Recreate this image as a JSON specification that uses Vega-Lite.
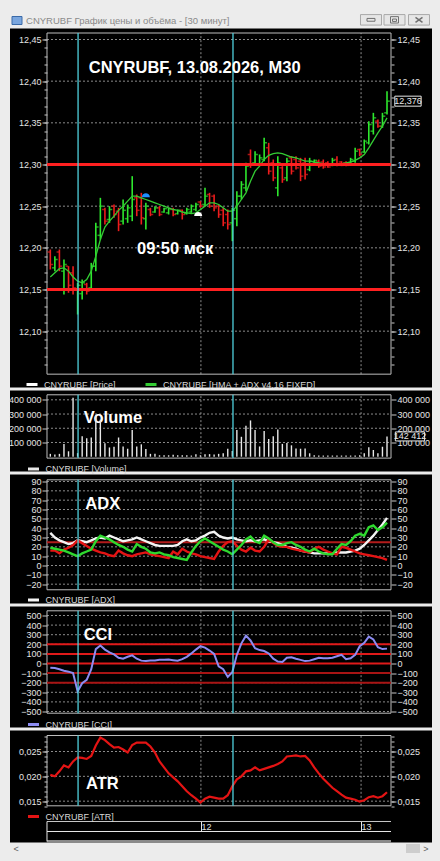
{
"$schema": "https://vega.github.io/schema/vega-lite/v6.json",
"background": "#ececec",
"padding": {"left": 8, "right": 10, "top": 12.5, "bottom": 9},
"bounds": "flush",
"spacing": 3,
"resolve": {"scale": {"x": "independent", "y": "independent", "color": "independent"}, "legend": {"color": "independent"}},
"config": {
 "view": {"fill": "#000000", "stroke": null},
 "axis": {"domain": false, "grid": false, "tickColor": "#c8c8c8", "tickWidth": 1, "labelColor": "#e4e4e4", "labelFont": "Liberation Sans Narrow, Liberation Sans", "labelFontSize": 9, "labelPadding": 1, "labelOverlap": false, "labelBound": false, "labelFlush": false, "zindex": 0},
 "legend": {"orient": "none", "direction": "horizontal", "symbolType": "stroke", "symbolStrokeWidth": 3, "symbolSize": 121, "labelColor": "#d8d8d8", "labelFont": "Liberation Sans Narrow, Liberation Sans", "labelFontSize": 9, "padding": 0, "labelOffset": 5, "columnPadding": 23},
 "text": {"font": "Liberation Sans", "fontWeight": "bold", "fontSize": 16.5, "color": "#ffffff", "align": "left", "baseline": "alphabetic"}
},
"datasets": {"d": [
{"i":0,"o":12.195,"h":12.198,"l":12.174,"c":12.18,"m":12.165,"v":20000,"a":35,"p":19,"n":16,"k":-45,"r":0.0203},
{"i":1,"o":12.176,"h":12.19,"l":12.172,"c":12.186,"m":12.17,"v":15000,"a":30,"p":18,"n":16,"k":-48,"r":0.02},
{"i":2,"o":12.195,"h":12.198,"l":12.172,"c":12.178,"m":12.175,"v":20000,"a":27,"p":17,"n":13,"k":-60,"r":0.021},
{"i":3,"o":12.172,"h":12.186,"l":12.144,"c":12.18,"m":12.176,"v":90000,"a":25,"p":16,"n":17,"k":-75,"r":0.0222},
{"i":4,"o":12.178,"h":12.178,"l":12.146,"c":12.155,"m":12.172,"v":38000,"a":23,"p":14,"n":19,"k":-85,"r":0.0218},
{"i":5,"o":12.17,"h":12.178,"l":12.144,"c":12.152,"m":12.165,"v":415000,"a":24,"p":12,"n":22,"k":-100,"r":0.023},
{"i":6,"o":12.15,"h":12.158,"l":12.12,"c":12.155,"m":12.16,"v":25000,"a":27,"p":10,"n":27,"k":-290,"r":0.0238},
{"i":7,"o":12.145,"h":12.162,"l":12.138,"c":12.158,"m":12.158,"v":143000,"a":26,"p":13,"n":24,"k":-205,"r":0.0237},
{"i":8,"o":12.156,"h":12.158,"l":12.144,"c":12.148,"m":12.162,"v":130000,"a":25,"p":15,"n":21,"k":-170,"r":0.0235},
{"i":9,"o":12.152,"h":12.182,"l":12.15,"c":12.178,"m":12.172,"v":135000,"a":27,"p":17,"n":18,"k":-60,"r":0.0241},
{"i":10,"o":12.178,"h":12.23,"l":12.172,"c":12.225,"m":12.19,"v":290000,"a":29,"p":26,"n":16,"k":150,"r":0.0262},
{"i":11,"o":12.215,"h":12.26,"l":12.21,"c":12.25,"m":12.21,"v":260000,"a":30,"p":32,"n":14,"k":187,"r":0.0278},
{"i":12,"o":12.246,"h":12.248,"l":12.228,"c":12.232,"m":12.225,"v":95000,"a":29,"p":30,"n":13,"k":145,"r":0.0273},
{"i":13,"o":12.234,"h":12.25,"l":12.23,"c":12.246,"m":12.232,"v":65000,"a":32,"p":28,"n":11,"k":115,"r":0.0265},
{"i":14,"o":12.25,"h":12.252,"l":12.236,"c":12.24,"m":12.238,"v":70000,"a":30,"p":25,"n":10,"k":95,"r":0.0258},
{"i":15,"o":12.244,"h":12.248,"l":12.22,"c":12.228,"m":12.245,"v":135000,"a":28,"p":22,"n":16,"k":60,"r":0.0259},
{"i":16,"o":12.232,"h":12.258,"l":12.228,"c":12.245,"m":12.25,"v":72000,"a":26,"p":20,"n":13,"k":50,"r":0.0254},
{"i":17,"o":12.235,"h":12.252,"l":12.23,"c":12.248,"m":12.256,"v":56000,"a":27,"p":17,"n":11,"k":70,"r":0.0248},
{"i":18,"o":12.238,"h":12.286,"l":12.232,"c":12.258,"m":12.262,"v":187000,"a":28,"p":15,"n":10,"k":85,"r":0.0263},
{"i":19,"o":12.26,"h":12.264,"l":12.238,"c":12.245,"m":12.262,"v":72000,"a":30,"p":23,"n":12,"k":50,"r":0.0268},
{"i":20,"o":12.26,"h":12.266,"l":12.228,"c":12.236,"m":12.26,"v":87000,"a":28,"p":20,"n":13,"k":30,"r":0.0268},
{"i":21,"o":12.235,"h":12.254,"l":12.222,"c":12.25,"m":12.258,"v":54000,"a":26,"p":18,"n":14,"k":25,"r":0.0268},
{"i":22,"o":12.246,"h":12.248,"l":12.238,"c":12.24,"m":12.256,"v":20000,"a":24,"p":14,"n":12,"k":30,"r":0.026},
{"i":23,"o":12.243,"h":12.25,"l":12.242,"c":12.248,"m":12.254,"v":20000,"a":22,"p":13,"n":11,"k":32,"r":0.0248},
{"i":24,"o":12.248,"h":12.25,"l":12.238,"c":12.24,"m":12.252,"v":10000,"a":21,"p":14,"n":10,"k":38,"r":0.023},
{"i":25,"o":12.243,"h":12.248,"l":12.242,"c":12.247,"m":12.25,"v":10000,"a":21,"p":12,"n":9,"k":40,"r":0.0218},
{"i":26,"o":12.242,"h":12.248,"l":12.24,"c":12.247,"m":12.248,"v":10000,"a":21,"p":11,"n":8,"k":42,"r":0.0206},
{"i":27,"o":12.246,"h":12.248,"l":12.238,"c":12.24,"m":12.246,"v":14000,"a":21,"p":9,"n":15,"k":35,"r":0.0198},
{"i":28,"o":12.241,"h":12.246,"l":12.24,"c":12.245,"m":12.245,"v":10000,"a":22,"p":8,"n":12,"k":28,"r":0.019},
{"i":29,"o":12.245,"h":12.246,"l":12.234,"c":12.24,"m":12.243,"v":10000,"a":26,"p":7,"n":18,"k":45,"r":0.018},
{"i":30,"o":12.241,"h":12.248,"l":12.24,"c":12.246,"m":12.242,"v":10000,"a":28,"p":6,"n":15,"k":70,"r":0.017},
{"i":31,"o":12.243,"h":12.252,"l":12.242,"c":12.25,"m":12.241,"v":8000,"a":26,"p":14,"n":13,"k":105,"r":0.0162},
{"i":32,"o":12.246,"h":12.254,"l":12.244,"c":12.252,"m":12.242,"v":18000,"a":27,"p":21,"n":12,"k":145,"r":0.0155},
{"i":33,"o":12.255,"h":12.256,"l":12.248,"c":12.25,"m":12.246,"v":10000,"a":30,"p":26,"n":10,"k":180,"r":0.0147},
{"i":34,"o":12.252,"h":12.272,"l":12.25,"c":12.262,"m":12.25,"v":18000,"a":32,"p":29,"n":9,"k":165,"r":0.0155},
{"i":35,"o":12.264,"h":12.266,"l":12.248,"c":12.25,"m":12.254,"v":18000,"a":35,"p":26,"n":8,"k":135,"r":0.0159},
{"i":36,"o":12.262,"h":12.264,"l":12.244,"c":12.248,"m":12.254,"v":15000,"a":36,"p":23,"n":7,"k":100,"r":0.0157},
{"i":37,"o":12.25,"h":12.252,"l":12.236,"c":12.24,"m":12.252,"v":20000,"a":32,"p":20,"n":15,"k":-30,"r":0.0155},
{"i":38,"o":12.245,"h":12.248,"l":12.226,"c":12.23,"m":12.248,"v":25000,"a":30,"p":17,"n":21,"k":-60,"r":0.0155},
{"i":39,"o":12.24,"h":12.246,"l":12.222,"c":12.228,"m":12.244,"v":56000,"a":29,"p":15,"n":25,"k":-140,"r":0.0162},
{"i":40,"o":12.23,"h":12.248,"l":12.208,"c":12.245,"m":12.244,"v":40000,"a":30,"p":12,"n":26,"k":-90,"r":0.018},
{"i":41,"o":12.235,"h":12.268,"l":12.226,"c":12.262,"m":12.25,"v":187000,"a":28,"p":17,"n":21,"k":90,"r":0.0194},
{"i":42,"o":12.262,"h":12.28,"l":12.258,"c":12.276,"m":12.258,"v":140000,"a":27,"p":22,"n":17,"k":210,"r":0.02},
{"i":43,"o":12.272,"h":12.302,"l":12.268,"c":12.298,"m":12.266,"v":218000,"a":26,"p":28,"n":15,"k":290,"r":0.021},
{"i":44,"o":12.312,"h":12.318,"l":12.296,"c":12.3,"m":12.28,"v":255000,"a":27,"p":31,"n":19,"k":240,"r":0.0212},
{"i":45,"o":12.302,"h":12.316,"l":12.3,"c":12.312,"m":12.292,"v":187000,"a":26,"p":26,"n":16,"k":160,"r":0.0218},
{"i":46,"o":12.3,"h":12.312,"l":12.298,"c":12.308,"m":12.298,"v":72000,"a":27,"p":24,"n":15,"k":140,"r":0.0212},
{"i":47,"o":12.306,"h":12.332,"l":12.304,"c":12.326,"m":12.306,"v":180000,"a":28,"p":32,"n":20,"k":130,"r":0.0215},
{"i":48,"o":12.32,"h":12.326,"l":12.288,"c":12.292,"m":12.311,"v":124000,"a":26,"p":29,"n":28,"k":105,"r":0.0218},
{"i":49,"o":12.302,"h":12.306,"l":12.28,"c":12.284,"m":12.313,"v":143000,"a":25,"p":25,"n":24,"k":50,"r":0.0221},
{"i":50,"o":12.272,"h":12.31,"l":12.262,"c":12.302,"m":12.314,"v":192000,"a":24,"p":22,"n":21,"k":20,"r":0.0225},
{"i":51,"o":12.296,"h":12.298,"l":12.278,"c":12.282,"m":12.313,"v":90000,"a":22,"p":22,"n":20,"k":15,"r":0.023},
{"i":52,"o":12.284,"h":12.308,"l":12.28,"c":12.304,"m":12.311,"v":96000,"a":20,"p":24,"n":20,"k":60,"r":0.024},
{"i":53,"o":12.308,"h":12.31,"l":12.288,"c":12.292,"m":12.309,"v":80000,"a":19,"p":25,"n":18,"k":65,"r":0.0241},
{"i":54,"o":12.306,"h":12.31,"l":12.294,"c":12.296,"m":12.308,"v":58000,"a":18,"p":22,"n":17,"k":50,"r":0.0242},
{"i":55,"o":12.304,"h":12.308,"l":12.28,"c":12.286,"m":12.306,"v":56000,"a":16,"p":20,"n":16,"k":38,"r":0.024},
{"i":56,"o":12.302,"h":12.308,"l":12.282,"c":12.288,"m":12.304,"v":58000,"a":15,"p":17,"n":15,"k":25,"r":0.0241},
{"i":57,"o":12.294,"h":12.308,"l":12.292,"c":12.304,"m":12.304,"v":24000,"a":14,"p":15,"n":14,"k":30,"r":0.0232},
{"i":58,"o":12.301,"h":12.306,"l":12.3,"c":12.305,"m":12.303,"v":10000,"a":13,"p":18,"n":18,"k":45,"r":0.0218},
{"i":59,"o":12.304,"h":12.306,"l":12.296,"c":12.298,"m":12.302,"v":8000,"a":13,"p":15,"n":20,"k":60,"r":0.0206},
{"i":60,"o":12.303,"h":12.306,"l":12.295,"c":12.297,"m":12.301,"v":8000,"a":13,"p":13,"n":17,"k":55,"r":0.0195},
{"i":61,"o":12.302,"h":12.304,"l":12.296,"c":12.297,"m":12.3,"v":8000,"a":13,"p":12,"n":15,"k":55,"r":0.0186},
{"i":62,"o":12.299,"h":12.308,"l":12.298,"c":12.305,"m":12.3,"v":8000,"a":13,"p":12,"n":13,"k":60,"r":0.0177},
{"i":63,"o":12.306,"h":12.31,"l":12.298,"c":12.3,"m":12.3,"v":8000,"a":14,"p":18,"n":12,"k":75,"r":0.017},
{"i":64,"o":12.303,"h":12.304,"l":12.298,"c":12.299,"m":12.301,"v":8000,"a":14,"p":23,"n":20,"k":90,"r":0.0163},
{"i":65,"o":12.302,"h":12.304,"l":12.298,"c":12.299,"m":12.302,"v":8000,"a":14,"p":22,"n":19,"k":45,"r":0.0157},
{"i":66,"o":12.301,"h":12.308,"l":12.3,"c":12.306,"m":12.303,"v":8000,"a":15,"p":26,"n":17,"k":55,"r":0.0155},
{"i":67,"o":12.304,"h":12.32,"l":12.302,"c":12.316,"m":12.305,"v":8000,"a":16,"p":32,"n":15,"k":90,"r":0.0153},
{"i":68,"o":12.318,"h":12.319,"l":12.31,"c":12.312,"m":12.308,"v":10000,"a":18,"p":34,"n":13,"k":180,"r":0.0149},
{"i":69,"o":12.315,"h":12.33,"l":12.314,"c":12.328,"m":12.312,"v":24000,"a":22,"p":32,"n":12,"k":215,"r":0.0152},
{"i":70,"o":12.326,"h":12.352,"l":12.324,"c":12.348,"m":12.32,"v":66000,"a":27,"p":41,"n":11,"k":280,"r":0.0158},
{"i":71,"o":12.34,"h":12.362,"l":12.336,"c":12.356,"m":12.329,"v":47000,"a":32,"p":43,"n":10,"k":250,"r":0.016},
{"i":72,"o":12.352,"h":12.354,"l":12.344,"c":12.346,"m":12.338,"v":24000,"a":38,"p":38,"n":9,"k":170,"r":0.0157},
{"i":73,"o":12.346,"h":12.362,"l":12.344,"c":12.358,"m":12.346,"v":70000,"a":44,"p":41,"n":8,"k":150,"r":0.016},
{"i":74,"o":12.362,"h":12.388,"l":12.36,"c":12.376,"m":12.356,"v":142412,"a":51,"p":46,"n":6,"k":155,"r":0.0168}
]},
"vconcat": [
{
 "width": 422, "height": 359,
 "resolve": {"axis": {"x": "independent", "y": "independent"}},
 "layer": [
  {"data": {"values": [{"g":12.1},{"g":12.15},{"g":12.2},{"g":12.25},{"g":12.3},{"g":12.35},{"g":12.4},{"g":12.45}]},
   "mark": {"type": "rule", "color": "#8c8c8c", "strokeDash": [2, 2], "strokeWidth": 1},
   "encoding": {
    "x": {"datum": -0.73, "type": "quantitative", "scale": {"domain": [-8.86, 83.89], "nice": false, "zero": false}, "axis": null},
    "x2": {"datum": 74.88},
    "y": {"field": "g", "type": "quantitative", "scale": {"domain": [12.0324, 12.4632], "nice": false, "zero": false},
          "axis": {"orient": "left", "offset": -37, "values": [12.1,12.15,12.2,12.25,12.3,12.35,12.4,12.45], "labelExpr": "replace(format(datum.value, '.2f'), '.', ',')", "tickSize": 5, "title": null}}}},
  {"data": {"values": [{"g":12.1},{"g":12.45}]},
   "mark": {"type": "rule", "opacity": 0},
   "encoding": {
    "x": {"datum": -0.73, "type": "quantitative", "axis": null}, "x2": {"datum": 74.88},
    "y": {"field": "g", "type": "quantitative", "axis": {"orient": "right", "offset": -41, "values": [12.1,12.15,12.2,12.25,12.3,12.35,12.4,12.45], "labelExpr": "replace(format(datum.value, '.2f'), '.', ',')", "tickSize": 5, "title": null}}}},
  {"data": {"values": [{"g":12.1},{"g":12.45}]},
   "mark": {"type": "rule", "opacity": 0},
   "encoding": {
    "x": {"datum": -0.73, "type": "quantitative", "axis": null}, "x2": {"datum": 74.88},
    "y": {"field": "g", "type": "quantitative", "axis": {"orient": "left", "offset": -37, "values": [12.06,12.07,12.08,12.09,12.1,12.11,12.12,12.13,12.14,12.15,12.16,12.17,12.18,12.19,12.2,12.21,12.22,12.23,12.24,12.25,12.26,12.27,12.28,12.29,12.3,12.31,12.32,12.33,12.34,12.35,12.36,12.37,12.38,12.39,12.4,12.41,12.42,12.43,12.44,12.45], "labels": false, "tickSize": 3, "title": null}}}},
  {"data": {"values": [{"g":12.1},{"g":12.45}]},
   "mark": {"type": "rule", "opacity": 0},
   "encoding": {
    "x": {"datum": -0.73, "type": "quantitative", "axis": null}, "x2": {"datum": 74.88},
    "y": {"field": "g", "type": "quantitative", "axis": {"orient": "right", "offset": -41, "values": [12.06,12.07,12.08,12.09,12.1,12.11,12.12,12.13,12.14,12.15,12.16,12.17,12.18,12.19,12.2,12.21,12.22,12.23,12.24,12.25,12.26,12.27,12.28,12.29,12.3,12.31,12.32,12.33,12.34,12.35,12.36,12.37,12.38,12.39,12.4,12.41,12.42,12.43,12.44,12.45], "labels": false, "tickSize": 3, "title": null}}}},
  {"data": {"values": [{"d": 33.1}, {"d": 68.3}]},
   "mark": {"type": "rule", "color": "#8c8c8c", "strokeDash": [2, 2], "strokeWidth": 1},
   "encoding": {"x": {"field": "d", "type": "quantitative", "axis": null}, "y": {"datum": 12.0484, "type": "quantitative", "axis": null}, "y2": {"datum": 12.4578}}},
  {"data": {"values": [{}]},
   "mark": {"type": "rect", "fillOpacity": 0, "stroke": "#bdbdbd", "strokeWidth": 1},
   "encoding": {"x": {"datum": -0.73, "type": "quantitative", "axis": null}, "x2": {"datum": 74.88}, "y": {"datum": 12.0484, "type": "quantitative", "axis": null}, "y2": {"datum": 12.4578}}},
  {"data": {"name": "d"},
   "mark": {"type": "rule", "strokeWidth": 1.6},
   "encoding": {"x": {"field": "i", "type": "quantitative", "axis": null}, "y": {"field": "l", "type": "quantitative", "axis": null}, "y2": {"field": "h"},
    "color": {"condition": {"test": "datum.c >= datum.o", "value": "#2ee82e"}, "value": "#ee1c1c"}}},
  {"data": {"name": "d"},
   "mark": {"type": "tick", "orient": "horizontal", "size": 2.5, "thickness": 1.5, "xOffset": -1.6},
   "encoding": {"x": {"field": "i", "type": "quantitative", "axis": null}, "y": {"field": "o", "type": "quantitative", "axis": null},
    "color": {"condition": {"test": "datum.c >= datum.o", "value": "#2ee82e"}, "value": "#ee1c1c"}}},
  {"data": {"name": "d"},
   "mark": {"type": "tick", "orient": "horizontal", "size": 2.5, "thickness": 1.5, "xOffset": 1.6},
   "encoding": {"x": {"field": "i", "type": "quantitative", "axis": null}, "y": {"field": "c", "type": "quantitative", "axis": null},
    "color": {"condition": {"test": "datum.c >= datum.o", "value": "#2ee82e"}, "value": "#ee1c1c"}}},
  {"data": {"name": "d"},
   "mark": {"type": "line", "strokeWidth": 1.3},
   "encoding": {"x": {"field": "i", "type": "quantitative", "axis": null}, "y": {"field": "m", "type": "quantitative", "axis": null},
    "color": {"datum": "CNYRUBF [HMA + ADX v4.16 FIXED]", "type": "nominal", "scale": {"domain": ["CNYRUBF [Price]", "CNYRUBF [HMA + ADX v4.16 FIXED]"], "range": ["#ffffff", "#33cc33"]},
     "legend": {"title": null, "legendX": 15, "legendY": 349}}}},
  {"data": {"values": [{"lv": 12.3}, {"lv": 12.15}]},
   "mark": {"type": "rule", "color": "#ff2020", "strokeWidth": 3},
   "encoding": {"x": {"datum": -0.73, "type": "quantitative", "axis": null}, "x2": {"datum": 74.88}, "y": {"field": "lv", "type": "quantitative", "axis": null}}},
  {"data": {"values": [{"i": 21, "p": 12.263}]},
   "mark": {"type": "point", "shape": "M-1,0.5C-1,-0.9 1,-0.9 1,0.5Z", "size": 64, "filled": true, "color": "#1e90ff", "opacity": 1},
   "encoding": {"x": {"field": "i", "type": "quantitative", "axis": null}, "y": {"field": "p", "type": "quantitative", "axis": null}}},
  {"data": {"values": [{"i": 32.5, "p": 12.2405}]},
   "mark": {"type": "point", "shape": "M-1,0.5C-1,-0.9 1,-0.9 1,0.5Z", "size": 64, "filled": true, "color": "#ffffff", "opacity": 1},
   "encoding": {"x": {"field": "i", "type": "quantitative", "axis": null}, "y": {"field": "p", "type": "quantitative", "axis": null}}},
  {"data": {"values": [{"cy": 6.1}, {"cy": 40.15}]},
   "mark": {"type": "rule", "color": "#4fd0dc", "strokeWidth": 1.3},
   "encoding": {"x": {"field": "cy", "type": "quantitative", "axis": null}, "y": {"datum": 12.0484, "type": "quantitative", "axis": null}, "y2": {"datum": 12.4578}}},
  {"data": {"values": [{}]},
   "mark": {"type": "text", "text": "CNYRUBF, 13.08.2026, M30"},
   "encoding": {"x": {"datum": 8.44, "type": "quantitative", "axis": null}, "y": {"datum": 12.4104, "type": "quantitative", "axis": null}}},
  {"data": {"values": [{}]},
   "mark": {"type": "text", "text": "09:50 мск"},
   "encoding": {"x": {"datum": 19.05, "type": "quantitative", "axis": null}, "y": {"datum": 12.1926, "type": "quantitative", "axis": null}}},
  {"data": {"values": [{}]},
   "mark": {"type": "point", "shape": "M-1,-0.38H1V0.38H-1Z", "size": 692, "filled": true, "fill": "#000000", "stroke": "#e8e8e8", "strokeWidth": 1, "opacity": 1, "fillOpacity": 1, "strokeOpacity": 1},
   "encoding": {"x": {"datum": 78.61, "type": "quantitative", "axis": null}, "y": {"datum": 12.376, "type": "quantitative", "axis": null}}},
  {"data": {"values": [{}]},
   "mark": {"type": "text", "text": "12,376", "font": "Liberation Sans Narrow, Liberation Sans", "fontSize": 9, "fontWeight": "normal", "align": "center", "baseline": "middle", "color": "#e8e8e8"},
   "encoding": {"x": {"datum": 78.61, "type": "quantitative", "axis": null}, "y": {"datum": 12.376, "type": "quantitative", "axis": null}}},
  {"data": {"values": [{}]},
   "mark": {"type": "text", "text": "CNYRUBF График цены и объёма - [30 минут]", "font": "Liberation Sans", "fontSize": 9.5, "fontWeight": "normal", "align": "left", "baseline": "middle", "color": "#8a8a8a"},
   "encoding": {"x": {"datum": -5.34, "type": "quantitative", "axis": null}, "y": {"datum": 12.4728, "type": "quantitative", "axis": null}}},
  {"data": {"values": [{}]},
   "mark": {"type": "point", "shape": "M-1,-0.8H1V0.8H-1Z", "size": 100, "filled": true, "fill": "#7aa6de", "stroke": "#3a6aa8", "strokeWidth": 1, "opacity": 1, "fillOpacity": 1, "strokeOpacity": 1},
   "encoding": {"x": {"datum": -7.32, "type": "quantitative", "axis": null}, "y": {"datum": 12.4728, "type": "quantitative", "axis": null}}},
  {"data": {"values": [{"b": 70.48}, {"b": 75.65}, {"b": 81.03}]},
   "mark": {"type": "point", "shape": "M-1,-0.5H1V0.5H-1Z", "size": 441, "filled": true, "fill": "#e6e6e6", "stroke": "#a8a8a8", "strokeWidth": 1, "opacity": 1, "fillOpacity": 1, "strokeOpacity": 1},
   "encoding": {"x": {"field": "b", "type": "quantitative", "axis": null}, "y": {"datum": 12.4736, "type": "quantitative", "axis": null}}},
  {"data": {"values": [{"b": 70.48}]},
   "mark": {"type": "point", "shape": "M-1,-0.35H1V0.35H-1Z", "size": 64, "filled": false, "stroke": "#707070", "strokeWidth": 1, "opacity": 1},
   "encoding": {"x": {"field": "b", "type": "quantitative", "axis": null}, "y": {"datum": 12.4736, "type": "quantitative", "axis": null}}},
  {"data": {"values": [{"b": 75.65}]},
   "mark": {"type": "point", "shape": "M-1,-0.8H1V0.8H-1Z M-0.5,-0.2H0.5V0.4H-0.5Z", "size": 64, "filled": false, "stroke": "#707070", "strokeWidth": 1, "opacity": 1},
   "encoding": {"x": {"field": "b", "type": "quantitative", "axis": null}, "y": {"datum": 12.4736, "type": "quantitative", "axis": null}}},
  {"data": {"values": [{"b": 81.03}]},
   "mark": {"type": "point", "shape": "M-1,-0.7L1,0.7M-1,0.7L1,-0.7", "size": 49, "filled": false, "stroke": "#707070", "strokeWidth": 1.5, "opacity": 1},
   "encoding": {"x": {"field": "b", "type": "quantitative", "axis": null}, "y": {"datum": 12.4736, "type": "quantitative", "axis": null}}}
 ]
},
{
 "width": 422, "height": 81,
 "resolve": {"axis": {"x": "independent", "y": "independent"}},
 "layer": [
  {"data": {"values": [{"g":100000},{"g":200000},{"g":300000},{"g":400000}]},
   "mark": {"type": "rule", "color": "#8c8c8c", "strokeDash": [2, 2], "strokeWidth": 1},
   "encoding": {
    "x": {"datum": -0.73, "type": "quantitative", "scale": {"domain": [-8.86, 83.89], "nice": false, "zero": false}, "axis": null},
    "x2": {"datum": 74.88},
    "y": {"field": "g", "type": "quantitative", "scale": {"domain": [-104100, 465500], "nice": false, "zero": false},
          "axis": {"orient": "left", "offset": -37, "values": [100000,200000,300000,400000], "labelExpr": "replace(format(datum.value, ',d'), ',', ' ')", "tickSize": 5, "title": null}}}},
  {"data": {"values": [{"g":100000},{"g":400000}]},
   "mark": {"type": "rule", "opacity": 0},
   "encoding": {
    "x": {"datum": -0.73, "type": "quantitative", "axis": null}, "x2": {"datum": 74.88},
    "y": {"field": "g", "type": "quantitative", "axis": {"orient": "right", "offset": -41, "values": [100000,200000,300000,400000], "labelExpr": "replace(format(datum.value, ',d'), ',', ' ')", "tickSize": 5, "title": null}}}},
  {"data": {"values": [{"d": 33.1}, {"d": 68.3}]},
   "mark": {"type": "rule", "color": "#8c8c8c", "strokeDash": [2, 2], "strokeWidth": 1},
   "encoding": {"x": {"field": "d", "type": "quantitative", "axis": null}, "y": {"datum": -10000, "type": "quantitative", "axis": null}, "y2": {"datum": 435300}}},
  {"data": {"values": [{}]},
   "mark": {"type": "rect", "fillOpacity": 0, "stroke": "#bdbdbd", "strokeWidth": 1},
   "encoding": {"x": {"datum": -0.73, "type": "quantitative", "axis": null}, "x2": {"datum": 74.88}, "y": {"datum": -10000, "type": "quantitative", "axis": null}, "y2": {"datum": 435300}}},
  {"data": {"values": [{}]},
   "mark": {"type": "text", "text": "Volume"},
   "encoding": {"x": {"datum": 7.34, "type": "quantitative", "axis": null}, "y": {"datum": 235600, "type": "quantitative", "axis": null}}},
  {"data": {"name": "d"},
   "mark": {"type": "rule", "strokeWidth": 1.4},
   "encoding": {"x": {"field": "i", "type": "quantitative", "axis": null}, "y": {"field": "v", "type": "quantitative", "axis": null}, "y2": {"datum": 0},
    "color": {"datum": "CNYRUBF [Volume]", "type": "nominal", "scale": {"domain": ["CNYRUBF [Volume]"], "range": ["#e8e8e8"]},
     "legend": {"title": null, "legendX": 16.5, "legendY": 71.5}}}},
  {"data": {"values": [{"cy": 6.1}, {"cy": 40.15}]},
   "mark": {"type": "rule", "color": "#4fd0dc", "strokeWidth": 1.3},
   "encoding": {"x": {"field": "cy", "type": "quantitative", "axis": null}, "y": {"datum": -10000, "type": "quantitative", "axis": null}, "y2": {"datum": 435300}}},
  {"data": {"values": [{}]},
   "mark": {"type": "point", "shape": "M-1,-0.307H1V0.307H-1Z", "size": 858, "filled": true, "fill": "#000000", "stroke": "#e8e8e8", "strokeWidth": 1, "opacity": 1, "fillOpacity": 1, "strokeOpacity": 1},
   "encoding": {"x": {"datum": 79.05, "type": "quantitative", "axis": null}, "y": {"datum": 142412, "type": "quantitative", "axis": null}}},
  {"data": {"values": [{}]},
   "mark": {"type": "text", "text": "142 412", "font": "Liberation Sans Narrow, Liberation Sans", "fontSize": 9, "fontWeight": "normal", "align": "center", "baseline": "middle", "color": "#e8e8e8"},
   "encoding": {"x": {"datum": 79.05, "type": "quantitative", "axis": null}, "y": {"datum": 142412, "type": "quantitative", "axis": null}}}
 ]
},
{
 "width": 422, "height": 129,
 "resolve": {"axis": {"x": "independent", "y": "independent"}},
 "layer": [
  {"data": {"values": [{"g":-20},{"g":-10},{"g":0},{"g":10},{"g":20},{"g":30},{"g":40},{"g":50},{"g":60},{"g":70},{"g":80},{"g":90}]},
   "mark": {"type": "rule", "color": "#8c8c8c", "strokeDash": [2, 2], "strokeWidth": 1},
   "encoding": {
    "x": {"datum": -0.73, "type": "quantitative", "scale": {"domain": [-8.86, 83.89], "nice": false, "zero": false}, "axis": null},
    "x2": {"datum": 74.88},
    "y": {"field": "g", "type": "quantitative", "scale": {"domain": [-40.7, 97.5], "nice": false, "zero": false},
          "axis": {"orient": "left", "offset": -37, "values": [-20,-10,0,10,20,30,40,50,60,70,80,90], "format": "d", "tickSize": 5, "title": null}}}},
  {"data": {"values": [{"g":-20},{"g":90}]},
   "mark": {"type": "rule", "opacity": 0},
   "encoding": {
    "x": {"datum": -0.73, "type": "quantitative", "axis": null}, "x2": {"datum": 74.88},
    "y": {"field": "g", "type": "quantitative", "axis": {"orient": "right", "offset": -41, "values": [-20,-10,0,10,20,30,40,50,60,70,80,90], "format": "d", "tickSize": 5, "title": null}}}},
  {"data": {"values": [{"d": 33.1}, {"d": 68.3}]},
   "mark": {"type": "rule", "color": "#8c8c8c", "strokeDash": [2, 2], "strokeWidth": 1},
   "encoding": {"x": {"field": "d", "type": "quantitative", "axis": null}, "y": {"datum": -26, "type": "quantitative", "axis": null}, "y2": {"datum": 91.8}}},
  {"data": {"values": [{}]},
   "mark": {"type": "rect", "fillOpacity": 0, "stroke": "#bdbdbd", "strokeWidth": 1},
   "encoding": {"x": {"datum": -0.73, "type": "quantitative", "axis": null}, "x2": {"datum": 74.88}, "y": {"datum": -26, "type": "quantitative", "axis": null}, "y2": {"datum": 91.8}}},
  {"data": {"values": [{}]},
   "mark": {"type": "text", "text": "ADX"},
   "encoding": {"x": {"datum": 7.69, "type": "quantitative", "axis": null}, "y": {"datum": 60.8, "type": "quantitative", "axis": null}}},
  {"data": {"values": [{"lv": 25}]},
   "mark": {"type": "rule", "color": "#b31b1b", "strokeWidth": 2},
   "encoding": {"x": {"datum": -0.73, "type": "quantitative", "axis": null}, "x2": {"datum": 74.88}, "y": {"field": "lv", "type": "quantitative", "axis": null}}},
  {"data": {"name": "d"},
   "mark": {"type": "line", "strokeWidth": 2.4},
   "encoding": {"x": {"field": "i", "type": "quantitative", "axis": null}, "y": {"field": "a", "type": "quantitative", "axis": null},
    "color": {"datum": "CNYRUBF [ADX]", "type": "nominal", "scale": {"domain": ["CNYRUBF [ADX]"], "range": ["#f4f4f4"]},
     "legend": {"title": null, "legendX": 16.5, "legendY": 118.5}}}},
  {"data": {"name": "d"},
   "mark": {"type": "line", "strokeWidth": 2.4, "color": "#e41414"},
   "encoding": {"x": {"field": "i", "type": "quantitative", "axis": null}, "y": {"field": "n", "type": "quantitative", "axis": null}}},
  {"data": {"name": "d"},
   "mark": {"type": "line", "strokeWidth": 2.4, "color": "#2ed82e"},
   "encoding": {"x": {"field": "i", "type": "quantitative", "axis": null}, "y": {"field": "p", "type": "quantitative", "axis": null}}},
  {"data": {"values": [{"cy": 6.1}, {"cy": 40.15}]},
   "mark": {"type": "rule", "color": "#4fd0dc", "strokeWidth": 1.3},
   "encoding": {"x": {"field": "cy", "type": "quantitative", "axis": null}, "y": {"datum": -26, "type": "quantitative", "axis": null}, "y2": {"datum": 91.8}}}
 ]
},
{
 "width": 422, "height": 121,
 "resolve": {"axis": {"x": "independent", "y": "independent"}},
 "layer": [
  {"data": {"values": [{"g":-500},{"g":-400},{"g":-300},{"g":-200},{"g":-100},{"g":0},{"g":100},{"g":200},{"g":300},{"g":400},{"g":500}]},
   "mark": {"type": "rule", "color": "#8c8c8c", "strokeDash": [2, 2], "strokeWidth": 1},
   "encoding": {
    "x": {"datum": -0.73, "type": "quantitative", "scale": {"domain": [-8.86, 83.89], "nice": false, "zero": false}, "axis": null},
    "x2": {"datum": 74.88},
    "y": {"field": "g", "type": "quantitative", "scale": {"domain": [-666.7, 593.8], "nice": false, "zero": false},
          "axis": {"orient": "left", "offset": -37, "values": [-500,-400,-300,-200,-100,0,100,200,300,400,500], "format": "d", "tickSize": 5, "title": null}}}},
  {"data": {"values": [{"g":-500},{"g":500}]},
   "mark": {"type": "rule", "opacity": 0},
   "encoding": {
    "x": {"datum": -0.73, "type": "quantitative", "axis": null}, "x2": {"datum": 74.88},
    "y": {"field": "g", "type": "quantitative", "axis": {"orient": "right", "offset": -41, "values": [-500,-400,-300,-200,-100,0,100,200,300,400,500], "format": "d", "tickSize": 5, "title": null}}}},
  {"data": {"values": [{"d": 33.1}, {"d": 68.3}]},
   "mark": {"type": "rule", "color": "#8c8c8c", "strokeDash": [2, 2], "strokeWidth": 1},
   "encoding": {"x": {"field": "d", "type": "quantitative", "axis": null}, "y": {"datum": -517.7, "type": "quantitative", "axis": null}, "y2": {"datum": 549}}},
  {"data": {"values": [{}]},
   "mark": {"type": "rect", "fillOpacity": 0, "stroke": "#bdbdbd", "strokeWidth": 1},
   "encoding": {"x": {"datum": -0.73, "type": "quantitative", "axis": null}, "x2": {"datum": 74.88}, "y": {"datum": -517.7, "type": "quantitative", "axis": null}, "y2": {"datum": 549}}},
  {"data": {"values": [{}]},
   "mark": {"type": "text", "text": "CCI"},
   "encoding": {"x": {"datum": 7.34, "type": "quantitative", "axis": null}, "y": {"datum": 247, "type": "quantitative", "axis": null}}},
  {"data": {"values": [{"lv": 200}, {"lv": 100}, {"lv": 0}]},
   "mark": {"type": "rule", "color": "#e01a1a", "strokeWidth": 2},
   "encoding": {"x": {"datum": -0.73, "type": "quantitative", "axis": null}, "x2": {"datum": 74.88}, "y": {"field": "lv", "type": "quantitative", "axis": null}}},
  {"data": {"values": [{"lv": -100}, {"lv": -200}]},
   "mark": {"type": "rule", "color": "#a81414", "strokeWidth": 2},
   "encoding": {"x": {"datum": -0.73, "type": "quantitative", "axis": null}, "x2": {"datum": 74.88}, "y": {"field": "lv", "type": "quantitative", "axis": null}}},
  {"data": {"name": "d"},
   "mark": {"type": "line", "strokeWidth": 2},
   "encoding": {"x": {"field": "i", "type": "quantitative", "axis": null}, "y": {"field": "k", "type": "quantitative", "axis": null},
    "color": {"datum": "CNYRUBF [CCI]", "type": "nominal", "scale": {"domain": ["CNYRUBF [CCI]"], "range": ["#8c8cf2"]},
     "legend": {"title": null, "legendX": 16.5, "legendY": 111}}}},
  {"data": {"values": [{"cy": 6.1}, {"cy": 40.15}]},
   "mark": {"type": "rule", "color": "#4fd0dc", "strokeWidth": 1.3},
   "encoding": {"x": {"field": "cy", "type": "quantitative", "axis": null}, "y": {"datum": -517.7, "type": "quantitative", "axis": null}, "y2": {"datum": 549}}}
 ]
},
{
 "width": 422, "height": 112,
 "resolve": {"axis": {"x": "independent", "y": "independent"}},
 "layer": [
  {"data": {"values": [{"g":0.015},{"g":0.02},{"g":0.025}]},
   "mark": {"type": "rule", "color": "#8c8c8c", "strokeDash": [2, 2], "strokeWidth": 1},
   "encoding": {
    "x": {"datum": -0.73, "type": "quantitative", "scale": {"domain": [-8.86, 83.89], "nice": false, "zero": false}, "axis": null},
    "x2": {"datum": 74.88},
    "y": {"field": "g", "type": "quantitative", "scale": {"domain": [0.006679, 0.029228], "nice": false, "zero": false},
          "axis": {"orient": "left", "offset": -37, "values": [0.015,0.02,0.025], "labelExpr": "replace(format(datum.value, '.3f'), '.', ',')", "tickSize": 5, "title": null}}}},
  {"data": {"values": [{"g":0.015},{"g":0.025}]},
   "mark": {"type": "rule", "opacity": 0},
   "encoding": {
    "x": {"datum": -0.73, "type": "quantitative", "axis": null}, "x2": {"datum": 74.88},
    "y": {"field": "g", "type": "quantitative", "axis": {"orient": "right", "offset": -41, "values": [0.015,0.02,0.025], "labelExpr": "replace(format(datum.value, '.3f'), '.', ',')", "tickSize": 5, "title": null}}}},
  {"data": {"values": [{"g":0.015},{"g":0.025}]},
   "mark": {"type": "rule", "opacity": 0},
   "encoding": {
    "x": {"datum": -0.73, "type": "quantitative", "axis": null}, "x2": {"datum": 74.88},
    "y": {"field": "g", "type": "quantitative", "axis": {"orient": "left", "offset": -37, "values": [0.014,0.015,0.016,0.017,0.018,0.019,0.02,0.021,0.022,0.023,0.024,0.025,0.026,0.027,0.028], "labels": false, "tickSize": 3, "title": null}}}},
  {"data": {"values": [{"g":0.015},{"g":0.025}]},
   "mark": {"type": "rule", "opacity": 0},
   "encoding": {
    "x": {"datum": -0.73, "type": "quantitative", "axis": null}, "x2": {"datum": 74.88},
    "y": {"field": "g", "type": "quantitative", "axis": {"orient": "right", "offset": -41, "values": [0.014,0.015,0.016,0.017,0.018,0.019,0.02,0.021,0.022,0.023,0.024,0.025,0.026,0.027,0.028], "labels": false, "tickSize": 3, "title": null}}}},
  {"data": {"values": [{"d": 33.1}, {"d": 68.3}]},
   "mark": {"type": "rule", "color": "#8c8c8c", "strokeDash": [2, 2], "strokeWidth": 1},
   "encoding": {"x": {"field": "d", "type": "quantitative", "axis": null}, "y": {"datum": 0.014068, "type": "quantitative", "axis": null}, "y2": {"datum": 0.028221}}},
  {"data": {"values": [{}]},
   "mark": {"type": "rect", "fillOpacity": 0, "stroke": "#bdbdbd", "strokeWidth": 1},
   "encoding": {"x": {"datum": -0.73, "type": "quantitative", "axis": null}, "x2": {"datum": 74.88}, "y": {"datum": 0.014068, "type": "quantitative", "axis": null}, "y2": {"datum": 0.028221}}},
  {"data": {"values": [{}]},
   "mark": {"type": "text", "text": "ATR"},
   "encoding": {"x": {"datum": 7.84, "type": "quantitative", "axis": null}, "y": {"datum": 0.01741, "type": "quantitative", "axis": null}}},
  {"data": {"name": "d"},
   "mark": {"type": "line", "strokeWidth": 2.2},
   "encoding": {"x": {"field": "i", "type": "quantitative", "axis": null}, "y": {"field": "r", "type": "quantitative", "axis": null},
    "color": {"datum": "CNYRUBF [ATR]", "type": "nominal", "scale": {"domain": ["CNYRUBF [ATR]"], "range": ["#e41414"]},
     "legend": {"title": null, "legendX": 16.5, "legendY": 79}}}},
  {"data": {"values": [{"cy": 6.1}, {"cy": 40.15}]},
   "mark": {"type": "rule", "color": "#4fd0dc", "strokeWidth": 1.3},
   "encoding": {"x": {"field": "cy", "type": "quantitative", "axis": null}, "y": {"datum": 0.014068, "type": "quantitative", "axis": null}, "y2": {"datum": 0.028221}}},
  {"data": {"values": [{}]},
   "mark": {"type": "rule", "color": "#c8c8c8", "strokeWidth": 1},
   "encoding": {"x": {"datum": -0.73, "type": "quantitative", "axis": null}, "x2": {"datum": 74.88}, "y": {"datum": 0.010907, "type": "quantitative", "axis": null}}},
  {"data": {"values": [{}]},
   "mark": {"type": "rule", "color": "#e8e8e8", "strokeWidth": 1},
   "encoding": {"x": {"datum": -0.73, "type": "quantitative", "axis": null}, "x2": {"datum": 74.88}, "y": {"datum": 0.008894, "type": "quantitative", "axis": null}}},
  {"data": {"values": [{}]},
   "mark": {"type": "rule", "color": "#8a8a8a", "strokeWidth": 3},
   "encoding": {"x": {"datum": -0.73, "type": "quantitative", "axis": null}, "x2": {"datum": 74.88}, "y": {"datum": 0.00688, "type": "quantitative", "axis": null}}},
  {"data": {"values": [{}]},
   "mark": {"type": "rule", "color": "#e8e8e8", "strokeWidth": 1},
   "encoding": {"x": {"datum": -0.73, "type": "quantitative", "axis": null}, "y": {"datum": 0.00688, "type": "quantitative", "axis": null}, "y2": {"datum": 0.010907}}},
  {"data": {"values": [{"d": 33.1}, {"d": 68.3}]},
   "mark": {"type": "rule", "opacity": 0},
   "encoding": {"x": {"field": "d", "type": "quantitative",
     "axis": {"orient": "bottom", "offset": -21, "values": [33.1, 68.3], "labelExpr": "datum.value < 50 ? '12' : '13'", "tickSize": 10, "tickColor": "#e8e8e8", "labelAlign": "left", "labelBaseline": "middle", "labelPadding": -5, "labelDx": 2, "labelColor": "#e0e0e0", "title": null}},
    "y": {"datum": 0.010907, "type": "quantitative", "axis": null}}},
  {"data": {"values": [{}]},
   "mark": {"type": "point", "shape": "M-1,-0.64H1V0.64H-1Z", "size": 196, "filled": true, "fill": "#cdcdcd", "stroke": "#cdcdcd", "strokeWidth": 0, "opacity": 1, "fillOpacity": 1},
   "encoding": {"x": {"datum": 79.71, "type": "quantitative", "axis": null}, "y": {"datum": 0.005471, "type": "quantitative", "axis": null}}},
  {"data": {"values": [{}]},
   "mark": {"type": "text", "text": "<", "font": "Liberation Sans", "fontSize": 9, "fontWeight": "normal", "align": "center", "baseline": "middle", "color": "#606060"},
   "encoding": {"x": {"datum": -7.54, "type": "quantitative", "axis": null}, "y": {"datum": 0.005471, "type": "quantitative", "axis": null}}},
  {"data": {"values": [{}]},
   "mark": {"type": "text", "text": ">", "font": "Liberation Sans", "fontSize": 9, "fontWeight": "normal", "align": "center", "baseline": "middle", "color": "#606060"},
   "encoding": {"x": {"datum": 82.57, "type": "quantitative", "axis": null}, "y": {"datum": 0.005471, "type": "quantitative", "axis": null}}}
 ]
}
]
}
